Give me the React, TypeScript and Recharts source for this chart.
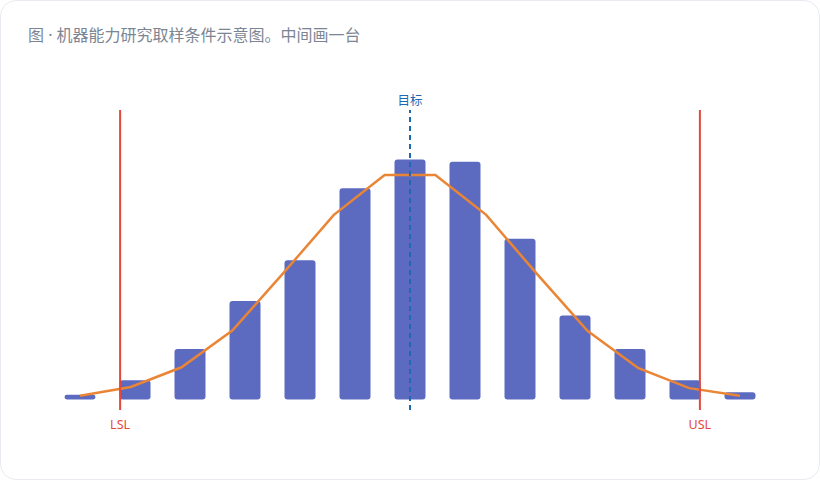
import React from 'react';
import { ComposedChart, Bar, Line, XAxis, YAxis, ReferenceLine } from 'recharts';

// Histogram bins (13 bins) – sample counts
const binLabels = ['1', '2', '3', '4', '5', '6', '7', '8', '9', '10', '11', '12', '13'];
const binCounts = [2, 8, 21, 41, 58, 88, 100, 99, 67, 35, 21, 8, 3];

// Fitted curve (14 points along the same span)
const curveX = [0, 1, 2, 3, 4, 5, 6, 7, 8, 9, 10, 11, 12, 13];
const curveY = [1.5, 5.2, 13.4, 28.7, 52.5, 76.9, 93.5, 93.5, 76.9, 52.3, 28.5, 13, 4.7, 1.5];

// Specification limits and target, on the curve's scale
const LSL = 0.79;
const USL = 12.21;
const TARGET = 6.5;

const title = '图 · 机器能力研究取样条件示意图。中间画一台';

const barData = binLabels.map((b, i) => ({ bin: b, count: binCounts[i] }));
const curveData = curveX.map((x, i) => ({ x, y: curveY[i] }));

const labelFont = '"Noto Sans", "Noto Sans CJK SC", sans-serif';

export default function App() {
  return (
    <div style={{ position: 'relative', width: 820, height: 480 }}>
      <style>{'body{margin:0;background:#ffffff;}'}</style>
      <div
        style={{
          position: 'absolute',
          left: 0,
          top: 0,
          width: 818,
          height: 478,
          border: '1px solid #e8ebf0',
          borderRadius: 16,
          background: '#ffffff',
        }}
      />
      <div
        style={{
          position: 'absolute',
          left: 28,
          top: 24,
          fontSize: 16,
          lineHeight: '22px',
          color: '#7b8593',
          fontFamily: '"Noto Sans", "Noto Sans CJK SC", sans-serif',
          whiteSpace: 'nowrap',
        }}
      >
        {title}
      </div>
      <div style={{ position: 'absolute', left: 0, top: 0 }}>
        <ComposedChart
          width={820}
          height={480}
          data={barData}
          margin={{ top: 110, right: 52.5, bottom: 70, left: 52.5 }}
        >
          <XAxis xAxisId="cat" dataKey="bin" type="category" hide />
          <XAxis
            xAxisId="num"
            dataKey="x"
            type="number"
            domain={[0, 13]}
            padding={{ left: 27.5, right: 27.5 }}
            allowDataOverflow
            hide
          />
          <YAxis yAxisId="y" type="number" domain={[-4.4, 120.6]} allowDataOverflow hide />
          <Bar
            xAxisId="cat"
            yAxisId="y"
            dataKey="count"
            fill="#5c6bc0"
            barSize={31}
            radius={[3, 3, 3, 3]}
            isAnimationActive={false}
          />
          <Line
            xAxisId="num"
            yAxisId="y"
            data={curveData}
            dataKey="y"
            type="linear"
            stroke="#ea8535"
            strokeWidth={2.5}
            dot={false}
            activeDot={false}
            isAnimationActive={false}
          />
          <ReferenceLine
            xAxisId="num"
            yAxisId="y"
            x={LSL}
            stroke="#e5483b"
            strokeWidth={2}
            label={{ value: 'LSL', position: 'bottom', offset: 10, fill: '#e5483b', fontSize: 12.5, fontFamily: labelFont }}
          />
          <ReferenceLine
            xAxisId="num"
            yAxisId="y"
            x={USL}
            stroke="#e5483b"
            strokeWidth={2}
            label={{ value: 'USL', position: 'bottom', offset: 10, fill: '#e5483b', fontSize: 12.5, fontFamily: labelFont }}
          />
          <ReferenceLine
            xAxisId="num"
            yAxisId="y"
            x={TARGET}
            stroke="#1f68b5"
            strokeWidth={2}
            strokeDasharray="5 4"
            label={{ value: '目标', position: 'top', offset: 5, fill: '#1f68b5', fontSize: 12.5, fontFamily: labelFont }}
          />
        </ComposedChart>
      </div>
    </div>
  );
}
